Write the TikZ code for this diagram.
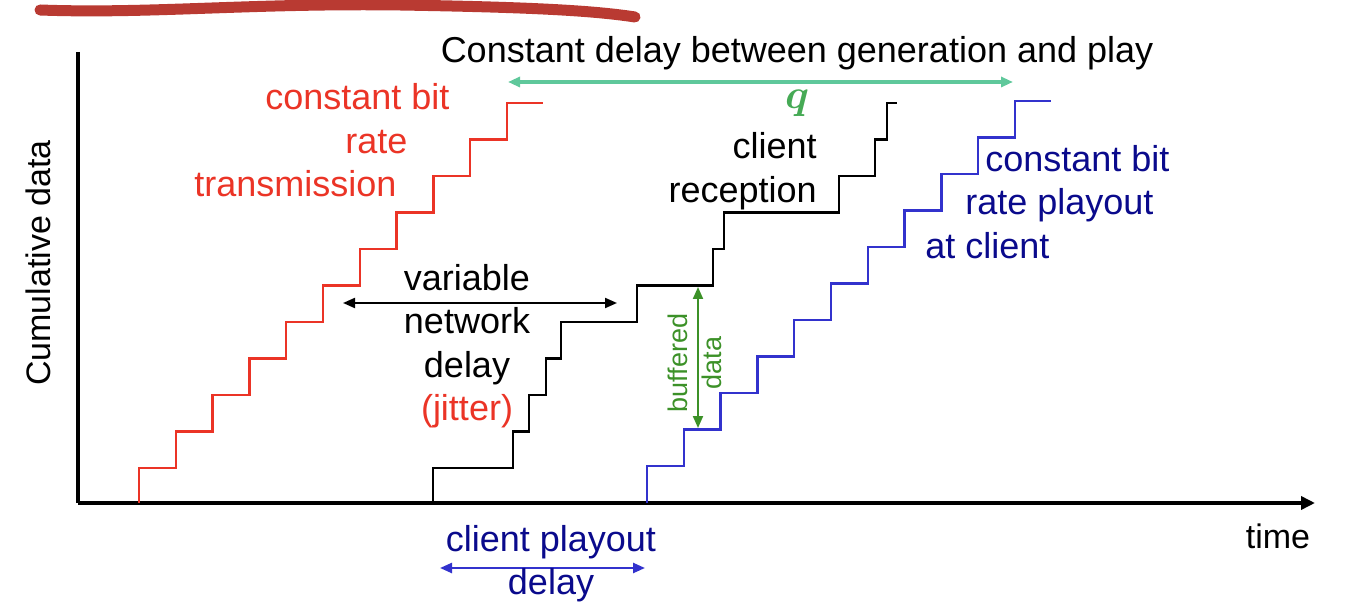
\documentclass[tikz,border=0pt]{standalone}
\usepackage{fontspec}
\setmainfont{Liberation Sans}
\usetikzlibrary{arrows.meta}
\definecolor{cbrred}{RGB}{235,52,38}
\definecolor{playblue}{RGB}{50,50,205}
\definecolor{navytext}{RGB}{10,10,140}
\definecolor{qmint}{RGB}{95,200,155}
\definecolor{qgreen}{RGB}{70,170,85}
\definecolor{bufgreen}{RGB}{60,145,40}
\definecolor{penred}{RGB}{185,58,50}

\begin{document}
\begin{tikzpicture}[x=0.5pt, y=-0.5pt,
	lbl/.style={inner sep=0pt, font=\fontsize{18}{21.75}\selectfont},
	axislbl/.style={inner sep=0pt, font=\fontsize{17}{20}\selectfont},
	stairs/.style={line width=1.25pt},
	tips/.style={{Triangle[length=6pt,width=5pt]}-{Triangle[length=6pt,width=5pt]}}]
	\useasboundingbox (0,0) rectangle (1348,614);
	\draw[penred, line width=5.5pt, line cap=round] (40,10) .. controls (150,14) and (250,3) .. (400,5) .. controls (520,7) and (590,10) .. (635,17);

	\coordinate (orig) at (78,503);
	\coordinate (ytop) at (78,52);
	\coordinate (xend) at (1315,503);
	\coordinate (qL) at (508,82);
	\coordinate (qR) at (1013,82);
	\coordinate (netL) at (343,303);
	\coordinate (netR) at (617,303);
	\coordinate (bufT) at (698,287);
	\coordinate (bufB) at (698,428);
	\coordinate (podL) at (440,568);
	\coordinate (podR) at (645,568);

	\draw[line width=2pt] (ytop) -- (orig);
	\draw[line width=2pt, -{Triangle[length=7pt,width=6.5pt]}] (orig) -- (xend);
	\node[axislbl, rotate=90] (ylbl) at (38,263) {Cumulative data};
	\node[axislbl, anchor=base] (xlbl) at (1278,548) {time};

	\draw[stairs, cbrred] (139,503) -- (139,468) \foreach \i in {1,...,10} { -- ++(36.8,0) -- ++(0,-36.5) } -- ++(36,0);
	\draw[stairs] (433,503) |- (513,468) |- (529,431.5) |- (546,395) |- (561,358.5) |- (637,322) |- (713,285.5) |- (724,249) |- (839,212.5) |- (875,176) |- (887,139.5) |- (897,103);
	\draw[stairs, playblue] (647,503) -- (647,466) \foreach \i in {1,...,10} { -- ++(36.8,0) -- ++(0,-36.5) } -- ++(36,0);

	\node[lbl, anchor=base] (gap) at (797,63) {Constant delay between generation and play};
	\draw[qmint, line width=1.6pt, tips] (qL) -- (qR);
	\node[inner sep=0pt, font=\fontsize{20}{24}\selectfont\boldmath, text=qgreen] (q) at (797,103) {$q$};

	\node[lbl, text=cbrred, align=left, anchor=west] (send) at (194,140.5) {\hspace*{35.5pt}constant bit\\\hspace*{75.5pt}rate\\transmission};
	\node[lbl, align=right, anchor=east] (recv) at (817,171) {client\\reception};
	\node[lbl, text=navytext, align=left, anchor=west] (play) at (925,202) {\hspace*{30pt}constant bit\\\hspace*{20pt}rate playout\\at client};

	\draw[line width=1pt, tips] (netL) -- (netR);
	\node[lbl, align=center] (jit) at (467,346) {variable\\network\\delay\\\textcolor{cbrred}{(jitter)}};

	\draw[bufgreen, line width=1pt, tips] (bufT) -- (bufB);
	\node[inner sep=0pt, font=\fontsize{13.5}{17}\selectfont, text=bufgreen, rotate=90, align=center] (buf) at (695,363) {buffered\\data};

	\draw[playblue, line width=1.2pt, tips] (podL) -- (podR);
	\node[lbl, text=navytext, align=center] (pod) at (551,563.5) {client playout\\delay};
\end{tikzpicture}
\end{document}
